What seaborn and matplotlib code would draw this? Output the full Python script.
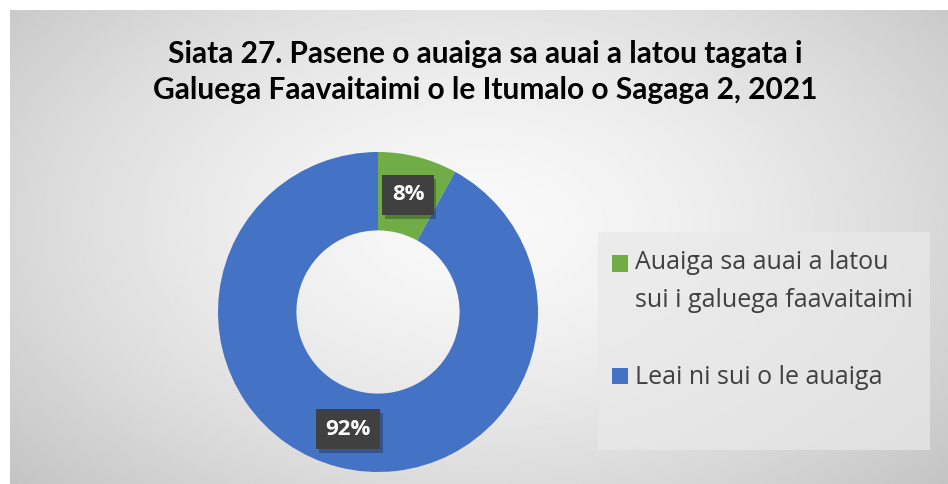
import matplotlib.pyplot as plt
import matplotlib.patheffects as pe
from matplotlib.legend_handler import HandlerPatch
from matplotlib.patches import Rectangle
import numpy as np
import seaborn as sns

labels = ["Auaiga sa auai a latou\nsui i galuega faavaitaimi", "Leai ni sui o le auaiga"]
values = [8, 92]
colors = ["#70AD47", "#4472C4"]
title = "Siata 27. Pasene o auaiga sa auai a latou tagata i\nGaluega Faavaitaimi o le Itumalo o Sagaga 2, 2021"

sns.set_style("white")
plt.rcParams["font.family"] = ["Open Sans", "DejaVu Sans"]

W, H = 948, 484
fig = plt.figure(figsize=(W / 100, H / 100), dpi=100, facecolor="white")

# radial grey gradient behind the chart
bg = fig.add_axes([10 / W, 0, (W - 10) / W, (H - 10) / H])
yy, xx = np.mgrid[0:1:300j, 0:1:600j]
r = np.sqrt(((xx - 0.5) / 0.7) ** 2 + ((yy - 0.45) / 0.85) ** 2)
shade = 0.975 - 0.22 * np.clip(r, 0, 1) ** 1.5
bg.imshow(shade, cmap="gray", vmin=0, vmax=1, aspect="auto", extent=[0, 1, 0, 1])
bg.set_axis_off()

fig.text(485 / W, 1 - 72 / H, title, ha="center", va="center", fontsize=21.5,
         fontweight="bold", family=["Lato", "DejaVu Sans"],
         linespacing=1.35, color="black")

ax = fig.add_axes([218 / W, 12 / H, 320 / W, 320 / H])
wedges, texts, autotexts = ax.pie(
    values, colors=colors, startangle=90, counterclock=False,
    autopct="%1.0f%%", pctdistance=0.755,
    wedgeprops=dict(width=0.49, edgecolor="none"),
    textprops=dict(color="white", fontsize=16, fontweight="bold"),
)
for t in autotexts:
    t.set_bbox(dict(boxstyle="square,pad=0.42", facecolor="#404040", edgecolor="none"))
    t.get_bbox_patch().set_path_effects([pe.withSimplePatchShadow(offset=(2, -3), alpha=0.3),
                                         pe.Normal()])
ax.set_xlim(-1, 1)
ax.set_ylim(-1, 1)
ax.set_aspect("equal")
ax.set_axis_off()

# legend panel
fig.patches.append(Rectangle((598 / W, 1 - 450 / H), 332 / W, 218 / H, transform=fig.transFigure,
                             facecolor="#e9e9e9", edgecolor="none", alpha=0.7, zorder=0))


def top_square(legend, orig_handle, xdescent, ydescent, width, height, fontsize):
    # put the swatch on the first line of a two-line label
    shift = 13.5 if "\n" in orig_handle.get_label() else 0
    return Rectangle((-xdescent, -ydescent + shift), width, height)


for w, lab in zip(wedges, labels):
    w.set_label(lab)

leg = fig.legend(wedges, labels, loc="upper left", bbox_to_anchor=(612 / W, 1 - 250 / H),
                 frameon=False, fontsize=18, handlelength=0.62, handleheight=0.62,
                 handletextpad=0.3, labelspacing=2.1, borderpad=0, borderaxespad=0,
                 handler_map={wedges[0]: HandlerPatch(patch_func=top_square),
                              wedges[1]: HandlerPatch(patch_func=top_square)})
for t in leg.get_texts():
    t.set_color("#404040")
    t.set_linespacing(1.68)

fig.savefig("out.png", dpi=100, facecolor="white")
